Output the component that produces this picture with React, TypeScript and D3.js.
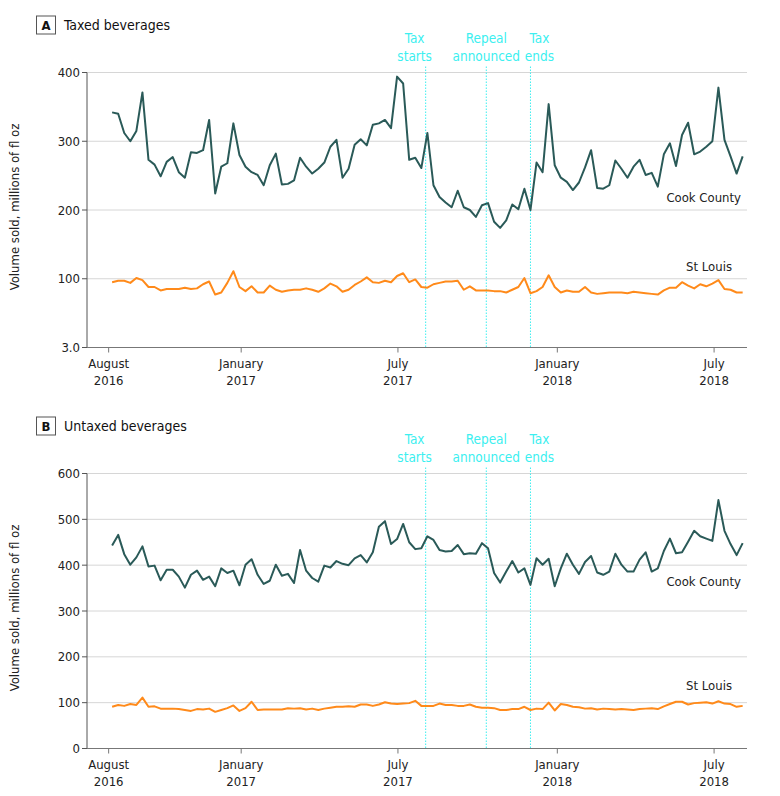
import React from 'react';
import * as d3 from 'd3';

// weekly sales, millions of fl oz, first week starting 2016-08-05
const cookTaxed = [
  342, 340, 312, 300, 315, 371, 273, 266, 249, 270,
  277, 255, 247, 284, 283, 287, 331, 224, 263, 268,
  326, 280, 263, 255, 251, 236, 265, 282, 237, 238,
  243, 276, 263, 253, 260, 269, 292, 302, 247, 260,
  295, 303, 294, 324, 326, 331, 319, 394, 384, 273,
  276, 261, 312, 236, 219, 211, 204, 228, 204, 200,
  190, 207, 210, 183, 174, 185, 208, 201, 231, 200,
  269, 255, 354, 265, 247, 241, 229, 240, 262, 287,
  232, 231, 236, 272, 260, 247, 263, 273, 251, 254,
  234, 281, 297, 264, 309, 327, 281, 285, 292, 300,
  378, 302, 278, 253, 278,
];
const stlTaxed = [
  95, 97, 97, 94, 101, 98, 88, 88, 83, 85,
  85, 85, 87, 85, 86, 92, 96, 77, 80, 94,
  111, 88, 82, 89, 80, 80, 90, 84, 81, 83,
  84, 84, 86, 84, 81, 86, 93, 89, 81, 84,
  91, 96, 102, 95, 94, 97, 95, 104, 108, 95,
  99, 88, 87, 92, 94, 96, 96, 97, 84, 89,
  83, 83, 83, 82, 82, 80, 84, 88, 101, 79,
  82, 88, 105, 88, 80, 83, 81, 81, 88, 80,
  78, 79, 80, 80, 80, 79, 81, 80, 79, 78,
  77, 83, 87, 87, 95, 90, 86, 92, 89, 93,
  98, 85, 84, 80, 80,
];
const cookUntaxed = [
  443, 466, 424, 401, 417, 441, 397, 399, 367, 390,
  390, 375, 351, 379, 388, 368, 375, 354, 393, 383,
  388, 356, 401, 413, 379, 359, 366, 401, 377, 381,
  361, 433, 388, 372, 364, 399, 395, 409, 403, 400,
  415, 422, 406, 428, 484, 496, 446, 457, 490, 450,
  435, 437, 463, 455, 433, 430, 431, 444, 424, 426,
  425, 448, 437, 383, 362, 386, 409, 384, 393, 357,
  415, 401, 414, 354, 393, 425, 401, 381, 407, 420,
  384, 379, 386, 425, 401, 386, 386, 412, 428, 386,
  393, 431, 458, 426, 428, 451, 475, 463, 458, 453,
  542, 475, 446, 422, 448,
];
const stlUntaxed = [
  91, 95, 93, 97, 95, 111, 91, 92, 87, 87,
  87, 86, 84, 82, 86, 85, 87, 80, 84, 88,
  94, 82, 88, 102, 84, 85, 85, 85, 85, 88,
  87, 88, 85, 87, 84, 87, 89, 91, 91, 92,
  91, 96, 96, 93, 96, 101, 98, 97, 98, 99,
  104, 93, 93, 93, 98, 95, 95, 93, 93, 96,
  91, 89, 89, 88, 84, 84, 86, 86, 91, 84,
  87, 86, 100, 83, 97, 95, 91, 90, 87, 88,
  85, 87, 86, 85, 86, 85, 84, 86, 87, 88,
  86, 92, 97, 102, 102, 96, 99, 100, 101, 98,
  103, 98, 97, 91, 93,
];

const firstWeek = new Date(2016, 7, 5);
const weeks = d3.range(cookTaxed.length).map(i => d3.timeWeek.offset(firstWeek, i));

const xTicks = [new Date(2016, 7, 1), new Date(2017, 0, 1), new Date(2017, 6, 1), new Date(2018, 0, 1), new Date(2018, 6, 1)];
const xTickLabels = [['August', '2016'], ['January', '2017'], ['July', '2017'], ['January', '2018'], ['July', '2018']];

const events = [
  { date: new Date(2017, 7, 2), lines: ['Tax', 'starts'], dx: -11 },
  { date: new Date(2017, 9, 11), lines: ['Repeal', 'announced'], dx: 0 },
  { date: new Date(2017, 11, 1), lines: ['Tax', 'ends'], dx: 9 },
];

const taxedTicks = [0, 100, 200, 300, 400];
const taxedTickLabels = ['3.0', '100', '200', '300', '400'];
const untaxedTicks = [0, 100, 200, 300, 400, 500, 600];
const untaxedTickLabels = ['0', '100', '200', '300', '400', '500', '600'];

const COOK = '#2a5a58';
const STL = '#ff8a1a';
const CYAN = '#3ceff0';
const FONT = '"DejaVu Sans Condensed", "DejaVu Sans", sans-serif';
const FS = 13;

const x = d3.scaleTime()
  .domain([new Date(2016, 6, 7), new Date(2018, 7, 8)])
  .range([87, 747]);

function Panel({ top, letter, title, yMax, ticks, tickLabels, cook, stl, cookLabelY, stlLabelY }) {
  const bottom = top + 275;
  const y = d3.scaleLinear().domain([0, yMax]).range([bottom, top]);
  const line = d3.line<number>()
    .x((d, i) => x(weeks[i]))
    .y(d => y(d));
  const [x0, x1] = x.range();

  return (
    <g>
      <rect x={36.5} y={top - 56.5} width={19} height={18} fill="white" stroke="#555" strokeWidth={1} />
      <text x={46} y={top - 42.5} textAnchor="middle" fontSize={13} fontWeight="bold" fill="#111">{letter}</text>
      <text x={64} y={top - 42.5} fontSize={14} fill="#111">{title}</text>

      {ticks.slice(1).map(t => (
        <line key={t} x1={x0} x2={x1} y1={y(t)} y2={y(t)} stroke="#d6d6d6" strokeWidth={1} />
      ))}

      {events.map((e, i) => (
        <g key={i}>
          <line x1={x(e.date)} x2={x(e.date)} y1={top - 6} y2={bottom} stroke={CYAN} strokeWidth={1} strokeDasharray="1.5 1.5" />
          {e.lines.map((l, j) => (
            <text key={j} x={x(e.date) + e.dx} y={top - 30 + j * 18} textAnchor="middle" fontSize={13.5} fill={CYAN}>{l}</text>
          ))}
        </g>
      ))}

      <line x1={x0} x2={x0} y1={top} y2={bottom} stroke="#555" strokeWidth={1} />
      <line x1={x0} x2={x1} y1={bottom} y2={bottom} stroke="#777" strokeWidth={1.2} />
      {ticks.map((t, i) => (
        <g key={t}>
          <line x1={x0 - 5} x2={x0} y1={y(t)} y2={y(t)} stroke="#555" />
          <text x={x0 - 7} y={y(t) + 4.5} textAnchor="end" fontSize={FS} fill="#222">{tickLabels[i]}</text>
        </g>
      ))}
      {xTicks.map((t, i) => (
        <g key={i}>
          <line x1={x(t)} x2={x(t)} y1={bottom} y2={bottom + 5} stroke="#777" />
          <text x={x(t)} y={bottom + 20} textAnchor="middle" fontSize={FS} fill="#222">{xTickLabels[i][0]}</text>
          <text x={x(t)} y={bottom + 37} textAnchor="middle" fontSize={FS} fill="#222">{xTickLabels[i][1]}</text>
        </g>
      ))}

      <text transform={`translate(19,${(top + bottom) / 2 - 3}) rotate(-90)`} textAnchor="middle" fontSize={FS} fill="#222">
        Volume sold, millions of fl oz
      </text>

      <path d={line(stl) || ''} fill="none" stroke={STL} strokeWidth={2} strokeLinejoin="round" />
      <path d={line(cook) || ''} fill="none" stroke={COOK} strokeWidth={2} strokeLinejoin="round" />

      <text x={741} y={top + cookLabelY} textAnchor="end" fontSize={FS} fill="#222">Cook County</text>
      <text x={732} y={top + stlLabelY} textAnchor="end" fontSize={FS} fill="#222">St Louis</text>
    </g>
  );
}

export default function App() {
  return (
    <svg width={780} height={796} style={{ position: 'absolute', left: 0, top: 0, fontFamily: FONT }}>
      <rect width={780} height={796} fill="white" />
      <Panel top={72.5} letter="A" title="Taxed beverages" yMax={400}
        ticks={taxedTicks} tickLabels={taxedTickLabels}
        cook={cookTaxed} stl={stlTaxed} cookLabelY={129} stlLabelY={198} />
      <Panel top={473.5} letter="B" title="Untaxed beverages" yMax={600}
        ticks={untaxedTicks} tickLabels={untaxedTickLabels}
        cook={cookUntaxed} stl={stlUntaxed} cookLabelY={112} stlLabelY={216} />
    </svg>
  );
}
